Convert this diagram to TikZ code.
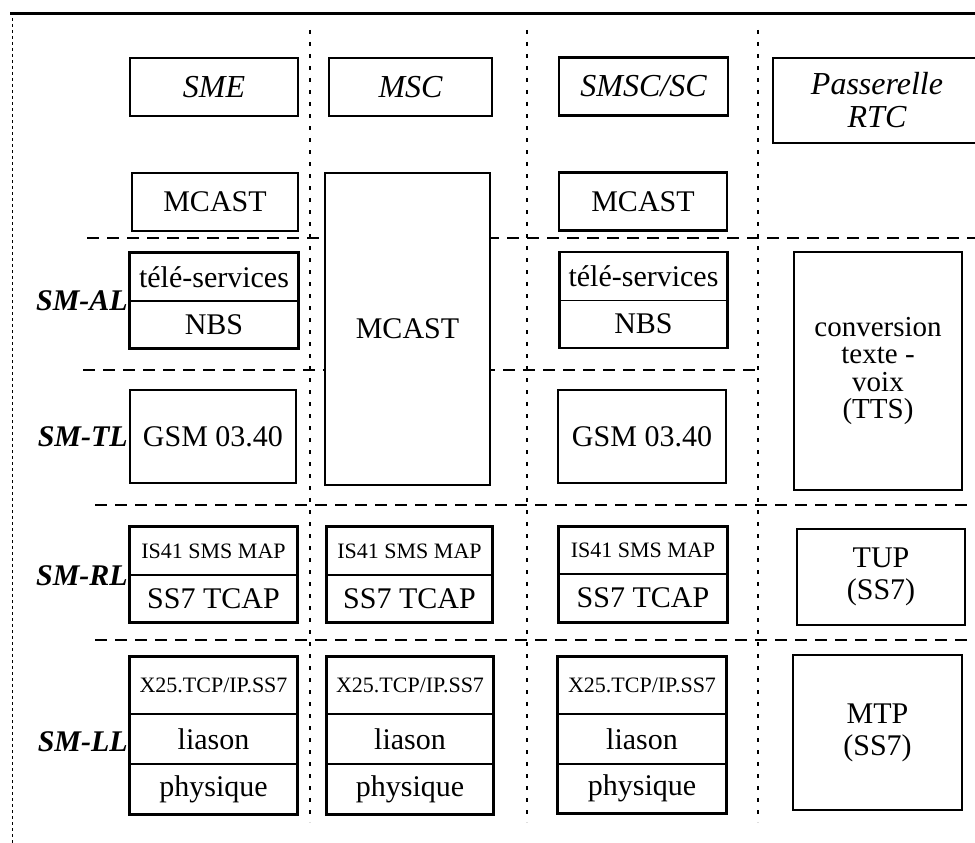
\documentclass[tikz,border=0pt]{standalone}
\usepackage{fontspec}
\setmainfont{Liberation Serif}
\usepackage{tikz}
\usetikzlibrary{positioning}

\begin{document}
\begin{tikzpicture}[x=1pt, y=-1pt,
  box/.style={draw, line width=2.6pt, fill=white, inner sep=0pt, align=center,
              font=\fontsize{30}{32}\selectfont},
  head/.style={box, font=\fontsize{32}{33}\selectfont\itshape},
  cell/.style={draw, line width=1.3pt, fill=white, inner sep=0pt, align=center,
               font=\fontsize{30}{32}\selectfont},
  small/.style={cell, font=\fontsize{22}{24}\selectfont},
  outer/.style={draw, line width=2.6pt},
  layer/.style={anchor=east, inner sep=0pt, font=\fontsize{30}{32}\selectfont\bfseries\itshape},
  vline/.style={line width=1.2pt, dash pattern=on 4pt off 8pt},
  hline/.style={line width=1.5pt, dash pattern=on 12pt off 8pt}
]
\useasboundingbox (0,0) rectangle (975,843);
\clip (0,0) rectangle (975,843);

% Frame and grid
\draw[line width=3pt] (10,14) -- (975,14);
\draw[line width=0.8pt, dash pattern=on 3pt off 3pt] (12,18) -- (12,843);
\foreach \x in {310,527,758}
  \draw[vline] (\x,30) -- (\x,822);
\draw[hline] (87,238) -- (975,238);
\draw[hline] (83,370) -- (758,370);
\draw[hline] (95,505) -- (975,505);
\draw[hline] (95,640) -- (975,640);

% Layer names
\node[layer] (al) at (128,301) {SM-AL};
\node[layer] (tl) at (128,437) {SM-TL};
\node[layer] (rl) at (128,576) {SM-RL};
\node[layer] (ll) at (128,742) {SM-LL};

% SME
\node[head, minimum width=168pt, minimum height=58pt] (sme) at (214,87) {SME};
\node[box, minimum width=166pt, minimum height=58pt] (mcastSme) at (215,202) {MCAST};
\node[cell, minimum width=168pt, minimum height=48pt] (teleSme) at (214,277) {télé-services};
\node[cell, minimum width=168pt, minimum height=47pt] (nbsSme) at (214,324.5) {NBS};
\draw[outer] (teleSme.north west) rectangle (nbsSme.south east);
\node[box, minimum width=166pt, minimum height=93pt] (gsmSme) at (213,436.5) {GSM 03.40};
\node[small, minimum width=167pt, minimum height=48pt] (mapSme) at (213.5,551) {IS41 SMS MAP};
\node[cell, minimum width=167pt, minimum height=47pt] (tcapSme) at (213.5,598.5) {SS7 TCAP};
\draw[outer] (mapSme.north west) rectangle (tcapSme.south east);
\node[small, minimum width=167pt, minimum height=57pt] (netSme) at (213.5,685.5) {X25.TCP/IP.SS7};
\node[cell, minimum width=167pt, minimum height=50pt] (liaSme) at (213.5,739) {liason};
\node[cell, minimum width=167pt, minimum height=50pt] (phySme) at (213.5,789) {physique};
\draw[outer] (netSme.north west) rectangle (phySme.south east);

% MSC
\node[head, minimum width=163pt, minimum height=58pt] (msc) at (410.5,87) {MSC};
\node[box, minimum width=165pt, minimum height=312pt] (mcastMsc) at (407.5,329) {MCAST};
\node[small, minimum width=165pt, minimum height=48pt] (mapMsc) at (409.5,551) {IS41 SMS MAP};
\node[cell, minimum width=165pt, minimum height=47pt] (tcapMsc) at (409.5,598.5) {SS7 TCAP};
\draw[outer] (mapMsc.north west) rectangle (tcapMsc.south east);
\node[small, minimum width=166pt, minimum height=57pt] (netMsc) at (410,685.5) {X25.TCP/IP.SS7};
\node[cell, minimum width=166pt, minimum height=50pt] (liaMsc) at (410,739) {liason};
\node[cell, minimum width=166pt, minimum height=50pt] (phyMsc) at (410,789) {physique};
\draw[outer] (netMsc.north west) rectangle (phyMsc.south east);

% SMSC/SC
\node[head, minimum width=169pt, minimum height=58pt] (smsc) at (643.5,86.5) {SMSC/SC};
\node[box, minimum width=168pt, minimum height=58pt] (mcastSmsc) at (643,201.5) {MCAST};
\node[cell, minimum width=167pt, minimum height=48pt] (teleSmsc) at (643.5,276.5) {télé-services};
\node[cell, minimum width=167pt, minimum height=47pt] (nbsSmsc) at (643.5,324) {NBS};
\draw[outer] (teleSmsc.north west) rectangle (nbsSmsc.south east);
\node[box, minimum width=168pt, minimum height=93pt] (gsmSmsc) at (642,436.5) {GSM 03.40};
\node[small, minimum width=168pt, minimum height=47pt] (mapSmsc) at (643,550.5) {IS41 SMS MAP};
\node[cell, minimum width=168pt, minimum height=48pt] (tcapSmsc) at (643,598) {SS7 TCAP};
\draw[outer] (mapSmsc.north west) rectangle (tcapSmsc.south east);
\node[small, minimum width=168pt, minimum height=57pt] (netSmsc) at (642,685.5) {X25.TCP/IP.SS7};
\node[cell, minimum width=168pt, minimum height=50pt] (liaSmsc) at (642,739) {liason};
\node[cell, minimum width=168pt, minimum height=49pt] (phySmsc) at (642,788.5) {physique};
\draw[outer] (netSmsc.north west) rectangle (phySmsc.south east);

% Passerelle RTC
\node[head, minimum width=208pt, minimum height=85pt] (rtc) at (877,100.5) {Passerelle\\RTC};
\node[box, minimum width=168pt, minimum height=238pt,
      font=\fontsize{29}{27.5}\selectfont] (tts) at (878,371) {conversion\\texte -\\voix\\(TTS)};
\node[box, minimum width=168pt, minimum height=96pt] (tup) at (881,577) {TUP\\(SS7)};
\node[box, minimum width=169pt, minimum height=155pt] (mtp) at (877.5,732.5) {MTP\\(SS7)};

\end{tikzpicture}
\end{document}
